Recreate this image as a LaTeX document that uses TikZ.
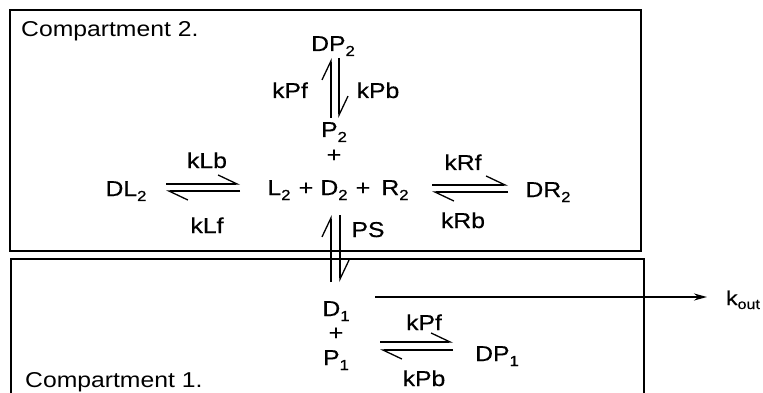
\documentclass[tikz,border=0pt]{standalone}
\usepackage{fontspec}
\setmainfont[FakeStretch=1.15]{Liberation Sans}
\newfontfamily\lblfont[FakeStretch=1.15,FakeBold=0.5]{Liberation Sans}
\usetikzlibrary{arrows.meta}
\newcommand{\lowsub}[1]{\raisebox{-5pt}{\fontsize{14.5}{15}\selectfont #1}}
\tikzset{
  lbl/.style={font=\lblfont\fontsize{21.5}{23}\selectfont,inner sep=0pt,anchor=base},
  comp/.style={font=\fontsize{21.5}{24}\selectfont,inner sep=0pt,anchor=base west},
  wall/.style={line width=1.6pt},
  harp/.style={line width=1.3pt,-{Straight Barb[harpoon,length=19pt,width=18pt]}},
  leave/.style={line width=1.8pt,-{Stealth[length=13pt,width=7pt]}}
}
\begin{document}
\begin{tikzpicture}[x=1pt,y=-1pt]
\useasboundingbox (0,0) rectangle (763,393);
\draw[wall] (10,10) rectangle (641,251);
\draw[wall] (11,393) -- (11,259) -- (644,259) -- (644,393);
\node (comp2) at (21,37) [comp] {Compartment 2.};
\node (comp1) at (25,387) [comp] {Compartment 1.};
\node (dp2) at (333,51) [lbl] {DP\lowsub{2}};
\node (kpf2) at (290,98) [lbl] {kPf};
\node (kpb2) at (378,98) [lbl] {kPb};
\node (p2) at (334,137) [lbl] {P\lowsub{2}};
\node (pa) at (334,162) [lbl] {+};
\node (l2) at (279,195) [lbl] {L\lowsub{2}};
\node (pb) at (306,195) [lbl] {+};
\node (d2) at (334,195) [lbl] {D\lowsub{2}};
\node (pc) at (363,195) [lbl] {+};
\node (r2) at (395,195) [lbl] {R\lowsub{2}};
\node (dl2) at (126,196) [lbl] {DL\lowsub{2}};
\node (klb) at (207,168) [lbl] {kLb};
\node (klf) at (207,233) [lbl] {kLf};
\node (krf) at (463,170) [lbl] {kRf};
\node (krb) at (463,228) [lbl] {kRb};
\node (dr2) at (548,197) [lbl] {DR\lowsub{2}};
\node (ps) at (368,237) [lbl] {PS};
\node (d1) at (336,316) [lbl] {D\lowsub{1}};
\node (pd) at (336,340) [lbl] {+};
\node (p1) at (336,365) [lbl] {P\lowsub{1}};
\node (kpf1) at (424,330) [lbl] {kPf};
\node (kpb1) at (424,386) [lbl] {kPb};
\node (dp1) at (497,361) [lbl] {DP\lowsub{1}};
\node (kout) at (743,305) [lbl,font=\lblfont\fontsize{20}{22}\selectfont] {k\raisebox{-4pt}{\fontsize{14}{15}\selectfont out}};
\draw[harp] ([shift={(40,-12)}]dl2.base) -- ([shift={(-39,-11)}]l2.base);
\draw[harp] ([shift={(-39,-4)}]l2.base) -- ([shift={(40,-5)}]dl2.base);
\draw[harp] ([shift={(37,-10)}]r2.base) -- ([shift={(-40,-12)}]dr2.base);
\draw[harp] ([shift={(-40,-5)}]dr2.base) -- ([shift={(37,-3)}]r2.base);
\draw[harp] ([shift={(-3,-19)}]p2.base) -- ([shift={(-2,7)}]dp2.base);
\draw[harp] ([shift={(6,7)}]dp2.base) -- ([shift={(5,-19)}]p2.base);
\draw[harp] ([shift={(-5,-34)}]d1.base) -- ([shift={(-3,20)}]d2.base);
\draw[harp] ([shift={(6,20)}]d2.base) -- ([shift={(4,-34)}]d1.base);
\draw[harp] ([shift={(44,-23)}]p1.base) -- ([shift={(-44,-19)}]dp1.base);
\draw[harp] ([shift={(-44,-11)}]dp1.base) -- ([shift={(44,-15)}]p1.base);
\draw[leave] ([shift={(39,-19)}]d1.base) -- ([shift={(-36,-8)}]kout.base);
\end{tikzpicture}
\end{document}
